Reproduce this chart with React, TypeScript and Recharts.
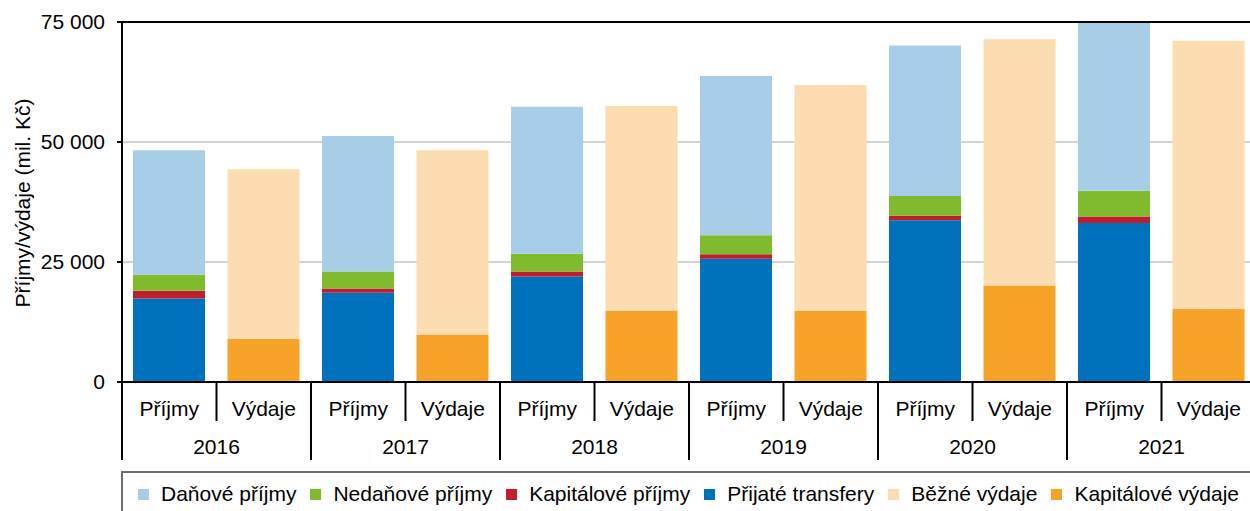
import React from 'react';
import { BarChart, Bar, XAxis, YAxis, CartesianGrid, Legend, ReferenceLine } from 'recharts';

const YEARS = ['2016', '2017', '2018', '2019', '2020', '2021'];
const KINDS = ['Příjmy', 'Výdaje'];
const Y_TICKS = [0, 25000, 50000, 75000];

// mil. Kč
const DANOVE = [25950, 28250, 30650, 33200, 31350, 35050];
const NEDANOVE = [3350, 3500, 3700, 3950, 4100, 5350];
const KAPITALOVE_PRIJMY = [1600, 900, 1000, 900, 950, 1400];
const TRANSFERY = [17400, 18600, 22000, 25700, 33700, 33100];
const BEZNE = [35300, 38400, 42600, 47100, 51300, 55900];
const KAPITALOVE_VYDAJE = [9000, 9900, 14900, 14800, 20100, 15200];

const SERIES = [
  { key: 'dan', name: 'Daňové příjmy', color: '#A8CDE7' },
  { key: 'nedan', name: 'Nedaňové příjmy', color: '#80BA2D' },
  { key: 'kapP', name: 'Kapitálové příjmy', color: '#BE1E2D' },
  { key: 'transf', name: 'Přijaté transfery', color: '#0071BC' },
  { key: 'bezne', name: 'Běžné výdaje', color: '#FBDDB1' },
  { key: 'kapV', name: 'Kapitálové výdaje', color: '#F7A229' },
];
const STACK_ORDER = ['transf', 'kapP', 'nedan', 'dan', 'kapV', 'bezne'];

const data: any[] = [];
YEARS.forEach((y, i) => {
  data.push({
    key: `${y}|${KINDS[0]}`,
    transf: TRANSFERY[i], kapP: KAPITALOVE_PRIJMY[i], nedan: NEDANOVE[i], dan: DANOVE[i],
    kapV: 0, bezne: 0,
  });
  data.push({
    key: `${y}|${KINDS[1]}`,
    transf: 0, kapP: 0, nedan: 0, dan: 0,
    kapV: KAPITALOVE_VYDAJE[i], bezne: BEZNE[i],
  });
});

const FONT = '"Liberation Sans", Arial, Helvetica, sans-serif';
const FS = 21;
const W = 1280;
const H = 511;
const PLOT_LEFT = 122;
const PLOT_RIGHT = 1256;
const BAND = (PLOT_RIGHT - PLOT_LEFT) / data.length;

const fmt = (v: number) => (v === 0 ? '0' : String(v).replace(/\B(?=(\d{3})+(?!\d))/g, ' '));

const XTick = (props: any) => {
  const { x, y, payload, index } = props;
  const [year, kind] = String(payload.value).split('|');
  const left = x - BAND / 2;
  const right = x + BAND / 2;
  const isFirst = index % 2 === 0;
  return (
    <g>
      <text x={x} y={y + 26} textAnchor="middle" dominantBaseline="central" fontSize={FS} fill="#000" fontFamily={FONT}>
        {kind}
      </text>
      <line x1={left} x2={left} y1={y} y2={isFirst ? y + 78 : y + 39} stroke="#000" strokeWidth={2} />
      {index === data.length - 1 && <line x1={right} x2={right} y1={y} y2={y + 78} stroke="#000" strokeWidth={2} />}
      {isFirst && (
        <text x={right} y={y + 64} textAnchor="middle" dominantBaseline="central" fontSize={FS} fill="#000" fontFamily={FONT}>
          {year}
        </text>
      )}
    </g>
  );
};

const LegendContent = () => (
  <div
    style={{
      boxSizing: 'border-box',
      width: 1200,
      height: 60,
      border: '2px solid #6e6e6e',
      display: 'flex',
      alignItems: 'flex-start',
      paddingLeft: 15,
      paddingTop: 8,
      fontFamily: FONT,
      fontSize: FS,
      color: '#000',
      whiteSpace: 'nowrap',
    }}
  >
    {SERIES.map((s) => (
      <div key={s.key} style={{ display: 'flex', alignItems: 'center', marginRight: 14, height: 26 }}>
        <span style={{ display: 'inline-block', width: 11, height: 11, background: s.color, marginRight: 12 }} />
        <span>{s.name}</span>
      </div>
    ))}
  </div>
);

const YLabel = () => (
  <text
    x={22}
    y={203}
    transform="rotate(-90 22 203)"
    textAnchor="middle"
    dominantBaseline="central"
    fontSize={FS}
    fill="#000"
    fontFamily={FONT}
  >
    Příjmy/výdaje (mil. Kč)
  </text>
);

export default function App() {
  return (
    <div style={{ position: 'absolute', left: 0, top: 0, width: 1250, height: 511, overflow: 'hidden', background: '#fff' }}>
      <BarChart
        width={W}
        height={H}
        data={data}
        margin={{ top: 22, right: W - PLOT_RIGHT, left: 0, bottom: 9 }}
        barSize={72}
      >
        <CartesianGrid vertical={false} stroke="#c4c4c4" strokeWidth={1.5} />
        <YAxis
          width={PLOT_LEFT}
          domain={[0, 75000]}
          ticks={Y_TICKS}
          interval={0}
          tickFormatter={fmt}
          tick={{ fontSize: FS, fill: '#000', fontFamily: FONT }}
          tickSize={5}
          tickMargin={12}
          tickLine={{ stroke: '#000', strokeWidth: 2 }}
          axisLine={{ stroke: '#000', strokeWidth: 2 }}
          label={{ content: () => <YLabel /> } as any}
        />
        <XAxis
          dataKey="key"
          type="category"
          interval={0}
          height={60}
          tickSize={0}
          tickMargin={0}
          tickLine={false}
          axisLine={{ stroke: '#000', strokeWidth: 2 }}
          tick={<XTick />}
        />
        {STACK_ORDER.map((k) => {
          const s = SERIES.find((x) => x.key === k)!;
          return (
            <Bar key={k} dataKey={k} name={s.name} stackId="a" fill={s.color} isAnimationActive={false} />
          );
        })}
        <ReferenceLine y={75000} stroke="#000" strokeWidth={2} ifOverflow="visible" />
        <Legend
          verticalAlign="bottom"
          content={() => <LegendContent />}
          wrapperStyle={{ left: 121, top: 471, width: 1200, height: 60 }}
        />
      </BarChart>
    </div>
  );
}
